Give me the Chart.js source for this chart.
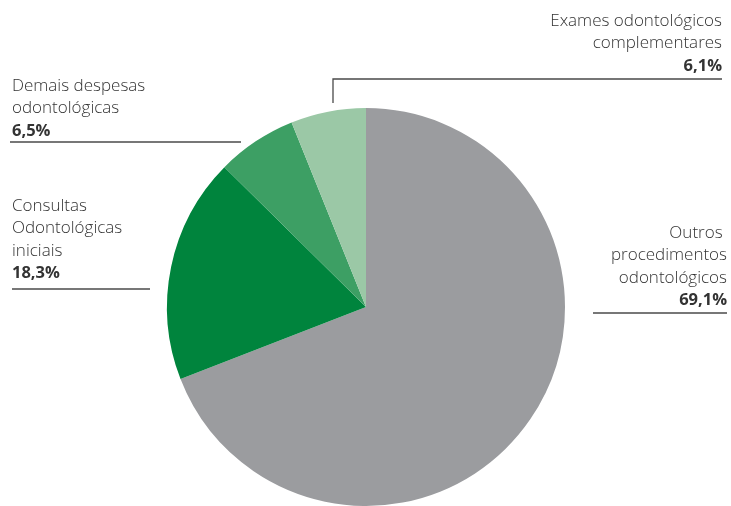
<!DOCTYPE html>
<html>
<head>
<meta charset="utf-8">
<script src="https://cdn.jsdelivr.net/npm/chart.js@4.4.0/dist/chart.umd.min.js"></script>
<style>
  html, body { margin: 0; padding: 0; background: #fff; }
  #wrap { width: 731px; height: 506px; position: relative; }
</style>
</head>
<body>
<div id="wrap"><canvas id="pieChart"></canvas></div>
<script>
// Distribuição das despesas odontológicas (%)
const categorias = [
  "Outros procedimentos odontológicos",
  "Consultas Odontológicas iniciais",
  "Demais despesas odontológicas",
  "Exames odontológicos complementares",
];
const percentuais = [69.1, 18.3, 6.5, 6.1];
const cores = ["#9b9c9f", "#00843d", "#3d9f64", "#9bc8a6"];

// Textos dos rótulos (linhas) de cada fatia
const rotulos = [
  ["Outros ", "procedimentos", "odontológicos"],
  ["Consultas", "Odontológicas", "iniciais"],
  ["Demais despesas", "odontológicas"],
  ["Exames odontológicos", "complementares"],
];

const fmt = (v) => v.toFixed(1).replace(".", ",") + "%";

// caixa de cada rótulo: x, baseline da 1a linha, alinhamento, linha de chamada
const caixas = [
  { x: 727, y: 238, align: "right", line: [[593, 313], [727, 313]] },
  { x: 12, y: 211, align: "left", line: [[12, 289], [150, 289]] },
  { x: 12, y: 91, align: "left", line: [[10, 142], [241, 142]] },
  { x: 722, y: 26, align: "right", line: [[722, 79], [333, 79], [333, 103]] },
];

const rotulosPlugin = {
  id: "rotulos",
  afterDraw(chart) {
    const ctx = chart.ctx;
    ctx.save();
    ctx.fillStyle = "#333";
    ctx.textBaseline = "alphabetic";
    caixas.forEach((c, i) => {
      ctx.textAlign = c.align;
      const linhas = rotulos[i];
      ctx.font = "300 17px 'Open Sans'";
      linhas.forEach((t, j) => ctx.fillText(t, c.x, c.y + j * 22.4));
      ctx.font = "bold 16.5px 'Open Sans'";
      ctx.fillText(fmt(percentuais[i]), c.x, c.y + linhas.length * 22.4);

      ctx.strokeStyle = "#4a4a4a";
      ctx.lineWidth = 1.3;
      ctx.beginPath();
      c.line.forEach((p, k) => (k ? ctx.lineTo(p[0], p[1]) : ctx.moveTo(p[0], p[1])));
      ctx.stroke();
    });
    ctx.restore();
  },
};

new Chart(document.getElementById("pieChart"), {
  type: "pie",
  data: {
    labels: categorias,
    datasets: [{ data: percentuais, backgroundColor: cores, borderWidth: 0 }],
  },
  options: {
    responsive: true,
    maintainAspectRatio: false,
    animation: false,
    layout: { padding: { left: 167, right: 166, top: 108, bottom: 0 } },
    plugins: { legend: { display: false }, tooltip: { enabled: false } },
  },
  plugins: [rotulosPlugin],
});
</script>
</body>
</html>
